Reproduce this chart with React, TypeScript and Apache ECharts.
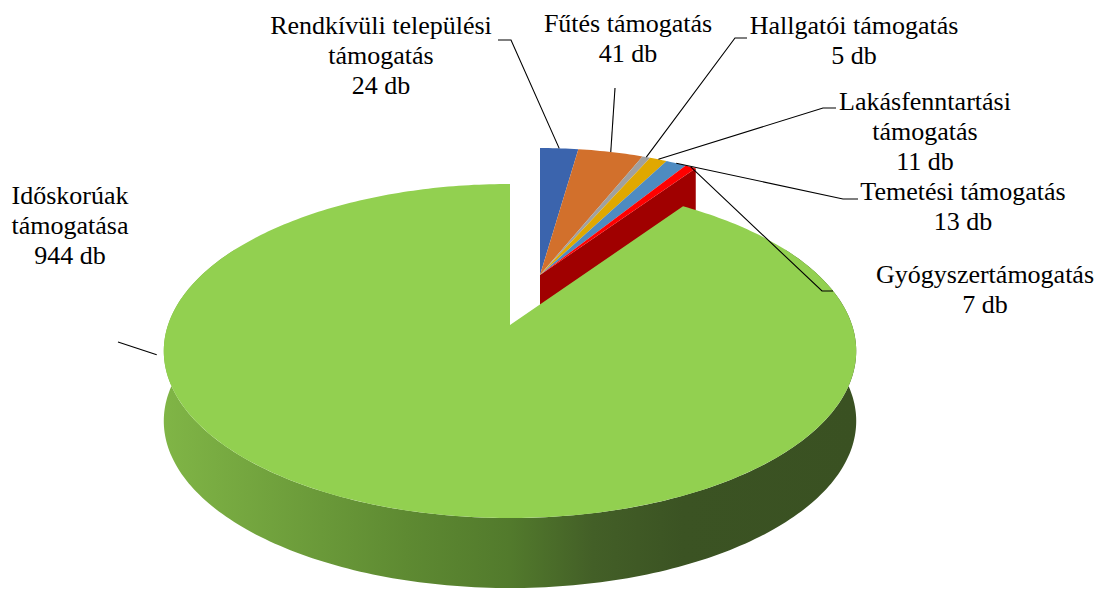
import React, { useEffect, useRef } from "react";
import * as echarts from "echarts";

// ---- data ----
const categories = [
  "Rendkívüli települési\ntámogatás",
  "Fűtés támogatás",
  "Hallgatói támogatás",
  "Lakásfenntartási\ntámogatás",
  "Temetési támogatás",
  "Gyógyszertámogatás",
  "Időskorúak\ntámogatása",
];
const values = [24, 41, 5, 11, 13, 7, 944];
const unit = "db";
const explodedCategory = "Időskorúak\ntámogatása";

// ---- styles ----
const topColors = ["#3B64AD", "#D2702C", "#A0A0A0", "#E0A800", "#4E8BC1", "#FF0000", "#92D050"];
const faceColors = ["#2A4A85", "#9E521F", "#787878", "#A87E00", "#3A6A94", "#A00000", "#4F7A2C"];
const greenSideStops = [
  { offset: 0, color: "#80B546" },
  { offset: 0.35, color: "#5E8A32" },
  { offset: 0.5, color: "#527A2C" },
  { offset: 0.62, color: "#435F27" },
  { offset: 0.75, color: "#3B5323" },
  { offset: 1, color: "#3A5122" },
];
const FONT = "26px 'Liberation Serif', 'Times New Roman', serif";

// ---- layout (view geometry, label boxes) ----
const VIEW = { R: 342, tilt: 0.4766, persp: 0.1557, depth: 70 };
const pieCenter: [number, number] = [540, 275];
const pieScale = 0.9;
const explodedCenter: [number, number] = [510, 325];
const explodedScale = 1.0;

type LabelLayout = {
  cx: number;
  cy: number;
  elbow: [number, number];
  tail: [number, number] | null;
  anchorDeg?: number;
  anchorR?: number;
};
const labelLayout: LabelLayout[] = [
  { cx: 381, cy: 55, elbow: [511, 40], tail: [498, 40] },
  { cx: 628, cy: 38, elbow: [615, 88], tail: null },
  { cx: 854, cy: 40, elbow: [735, 38], tail: [747, 38] },
  { cx: 925, cy: 131, elbow: [823, 108], tail: [836, 108] },
  { cx: 963, cy: 206, elbow: [843, 199], tail: [858, 199] },
  { cx: 985, cy: 289, elbow: [822, 291], tail: [833, 291] },
  { cx: 70, cy: 225, elbow: [118, 342], tail: null, anchorDeg: 260, anchorR: 1.02 },
];

const total = values.reduce((a, b) => a + b, 0);
const angles: [number, number][] = [];
{
  let acc = 0;
  values.forEach((v) => {
    const a0 = (acc / total) * 360;
    acc += v;
    angles.push([a0, (acc / total) * 360]);
  });
}
const explodedIndex = categories.indexOf(explodedCategory);
const isExploded = (i: number) => i === explodedIndex;

function project(center: [number, number], scale: number, deg: number, rFrac = 1, dz = 0): [number, number] {
  const a = (deg * Math.PI) / 180;
  const X = Math.sin(a) * rFrac;
  const Z = Math.cos(a) * rFrac;
  const k = 1 / (1 + VIEW.persp * Z);
  const R = VIEW.R * scale;
  return [center[0] + X * R * k, center[1] - Z * R * VIEW.tilt * k + dz * scale];
}

function arc(center: [number, number], scale: number, a0: number, a1: number, dz = 0) {
  const pts: [number, number][] = [];
  const n = Math.max(2, Math.ceil((a1 - a0) / 1));
  for (let j = 0; j <= n; j++) {
    pts.push(project(center, scale, a0 + ((a1 - a0) * j) / n, 1, dz));
  }
  return pts;
}

function renderItem(params: any) {
  const i = params.dataIndex;
  const [a0, a1] = angles[i];
  const ex = isExploded(i);
  const center = ex ? explodedCenter : pieCenter;
  const scale = ex ? explodedScale : pieScale;
  const n = values.length;
  const children: any[] = [];
  const h = VIEW.depth;

  // outer wall (front-facing part)
  const w0 = Math.max(a0, 60);
  const w1 = Math.min(a1, 300);
  if (w1 > w0) {
    const top = arc(center, scale, w0, w1, 0);
    const bot = arc(center, scale, w0, w1, h).reverse();
    children.push({
      type: "polygon",
      shape: { points: top.concat(bot) },
      style: {
        fill: ex ? new echarts.graphic.LinearGradient(0, 0, 1, 0, greenSideStops) : faceColors[i],
        stroke: null,
      },
      z2: 1,
    });
  }

  // cut faces at group boundaries
  const faceAt = (deg: number) => {
    const p0 = project(center, scale, deg, 0, 0);
    const p1 = project(center, scale, deg, 1, 0);
    const p2 = project(center, scale, deg, 1, h);
    const p3 = project(center, scale, deg, 0, h);
    children.push({
      type: "polygon",
      shape: { points: [p0, p1, p2, p3] },
      style: { fill: faceColors[i], stroke: null },
      z2: 2,
    });
  };
  const drawEnd = ex || isExploded((i + 1) % n);
  const drawStart = ex || isExploded((i - 1 + n) % n);
  if (drawEnd && Math.sin((a1 * Math.PI) / 180) > 0.01) faceAt(a1);
  if (drawStart && Math.sin((a0 * Math.PI) / 180) < -0.01) faceAt(a0);

  // top face
  const topPts = [project(center, scale, 0, 0, 0)].concat(arc(center, scale, a0, a1, 0));
  children.push({
    type: "polygon",
    shape: { points: topPts },
    style: { fill: topColors[i], stroke: null },
    z2: 3,
  });

  // leader line + label
  const lay = labelLayout[i];
  const anchor = lay.anchorDeg !== undefined
    ? project(center, scale, lay.anchorDeg, lay.anchorR ?? 1, 0)
    : project(center, scale, (a0 + a1) / 2, 1, 0);
  const pts: [number, number][] = [anchor, lay.elbow];
  if (lay.tail) pts.push(lay.tail);
  children.push({
    type: "polyline",
    shape: { points: pts },
    style: { stroke: "#000000", lineWidth: 1.1, fill: null },
    z2: 100,
  });
  children.push({
    type: "text",
    x: lay.cx,
    y: lay.cy,
    style: {
      text: categories[i] + "\n" + values[i] + " " + unit,
      fill: "#000000",
      font: FONT,
      align: "center",
      verticalAlign: "middle",
      lineHeight: 30,
    },
    z2: 101,
  });

  return { type: "group", children };
}

export default function App() {
  const ref = useRef<HTMLDivElement>(null);
  useEffect(() => {
    if (!ref.current) return;
    const chart = echarts.init(ref.current, null, { renderer: "svg" });
    chart.setOption({
      animation: false,
      backgroundColor: "#ffffff",
      series: [
        {
          type: "custom",
          coordinateSystem: "none",
          silent: true,
          renderItem,
          data: values.map((v, i) => ({ name: categories[i], value: v })),
        },
      ],
    });
    return () => chart.dispose();
  }, []);
  return (
    <div
      ref={ref}
      style={{ position: "fixed", left: 0, top: 0, width: 1099, height: 589, background: "#fff" }}
    />
  );
}
